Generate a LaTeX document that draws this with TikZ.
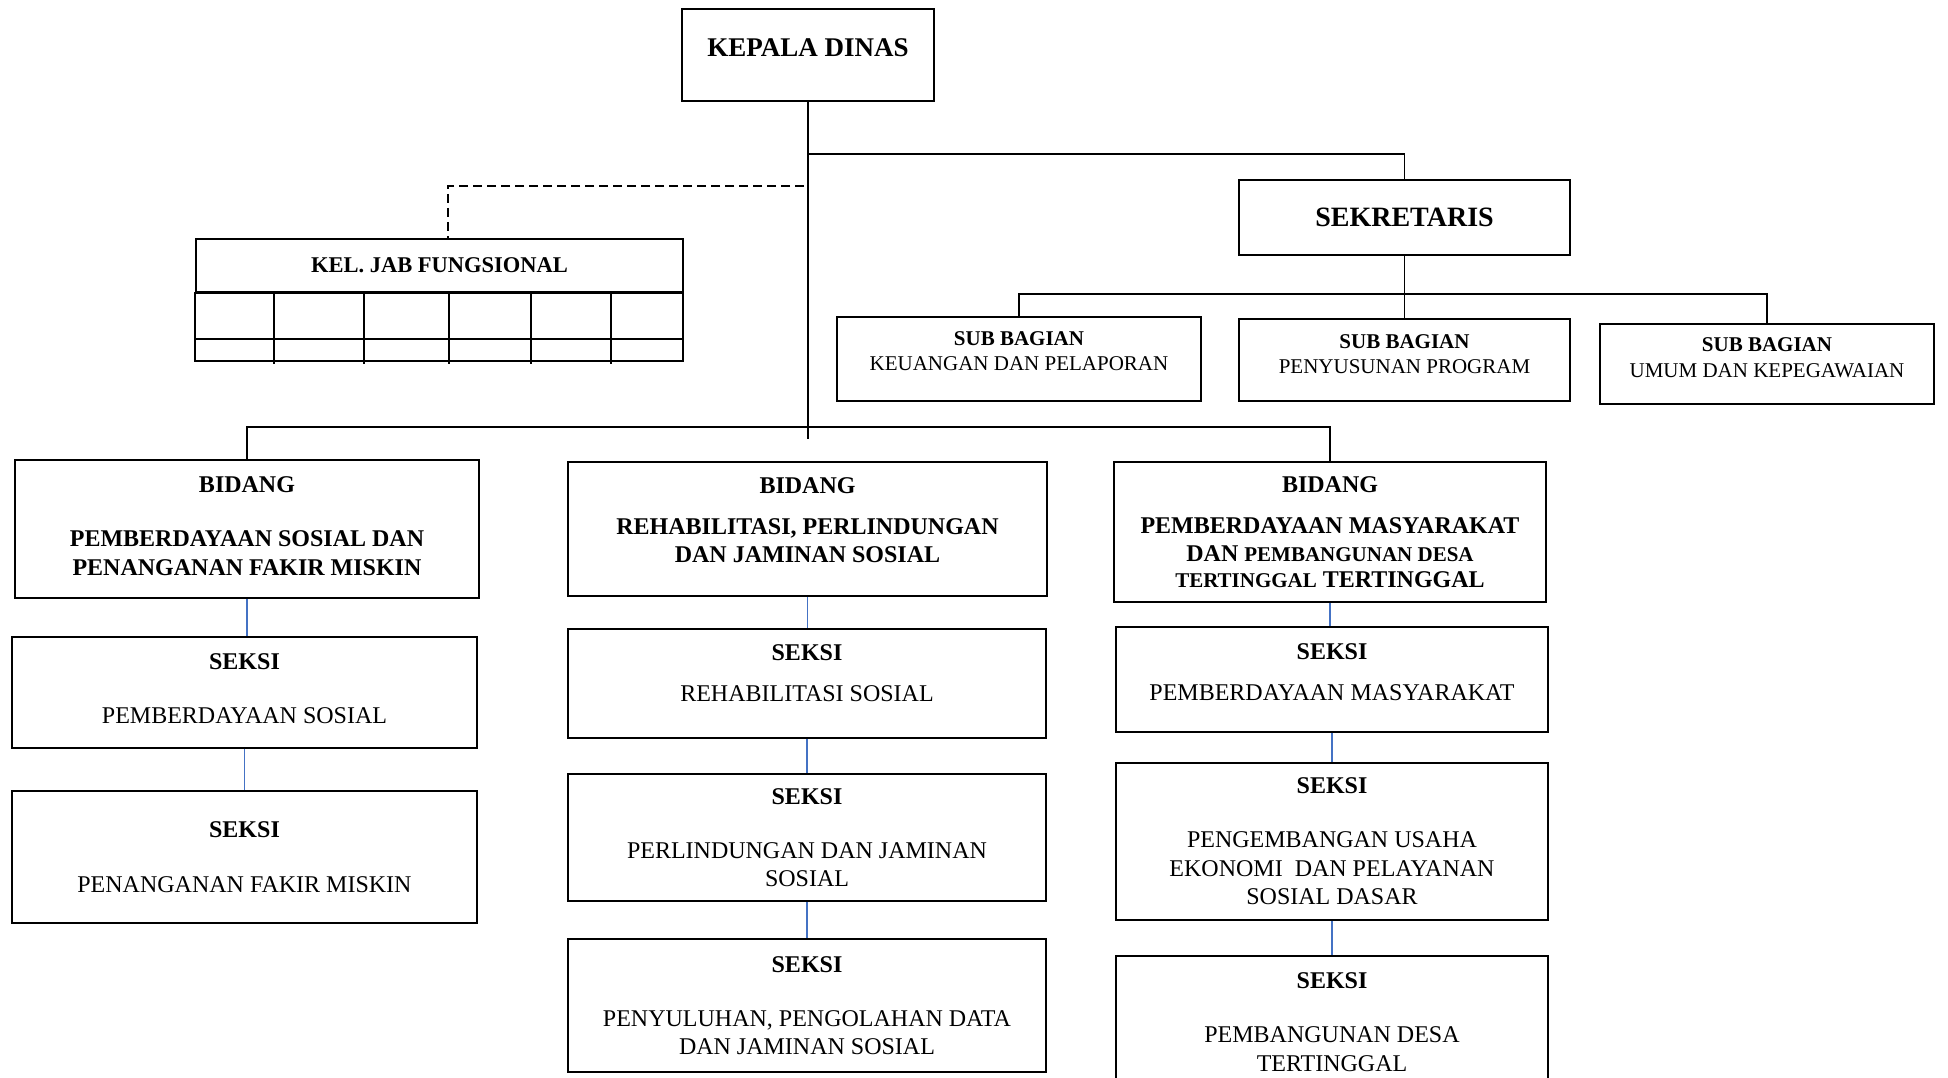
\documentclass[tikz,border=0pt]{standalone}
\usepackage{fontspec}
\setmainfont{Liberation Serif}
\usepackage{tikz}
\usetikzlibrary{positioning, calc}
\definecolor{linkblue}{HTML}{4472C4}

\begin{document}
\begin{tikzpicture}[
  x=1pt, y=-1pt,
  box/.style={draw, line width=1.8pt, align=center, inner sep=0pt},
  orgline/.style={line width=1.6pt},
  seksiline/.style={line width=1.4pt, linkblue},
  dashline/.style={line width=1.5pt, dash pattern=on 9pt off 5pt},
  headfont/.style={font=\fontsize{27}{31}\selectfont\bfseries},
  subfont/.style={font=\fontsize{21}{25.5}\selectfont},
  unitfont/.style={font=\fontsize{24}{28.5}\selectfont},
  bidfont/.style={font=\fontsize{24}{28.5}\selectfont\bfseries},
]
\useasboundingbox (0,0) rectangle (1948,1078);

% --- Kepala dinas and sekretariat ---
\node[box, headfont, minimum width=252pt, minimum height=92pt, text depth=14pt] (kepala) at (808,55) {KEPALA DINAS};
\node[box, font=\fontsize{28}{32}\selectfont\bfseries, minimum width=331pt, minimum height=75pt] (sekretaris) at (1404.5,217.5) {SEKRETARIS};

\node[box, subfont, minimum width=364pt, minimum height=84pt, text depth=16pt] (subkeu) at (1019,359) {\textbf{SUB BAGIAN}\\KEUANGAN DAN PELAPORAN};
\node[box, subfont, minimum width=331pt, minimum height=82pt, text depth=12pt] (subprog) at (1404.5,360) {\textbf{SUB BAGIAN}\\PENYUSUNAN PROGRAM};
\node[box, subfont, minimum width=334pt, minimum height=80pt, text depth=13pt] (subumum) at (1767,364) {\textbf{SUB BAGIAN}\\UMUM DAN KEPEGAWAIAN};

% --- Kelompok jabatan fungsional ---
\node[box, font=\fontsize{22.5}{26}\selectfont\bfseries, minimum width=487pt, minimum height=53pt] (kjf) at (439.5,265.5) {KEL. JAB FUNGSIONAL};
\draw[line width=1.8pt] (kjf.south west) rectangle (683,361);
\draw[line width=1.8pt] (196,339) -- (683,339);
\foreach \cx in {274,364,449,531,611}
  \draw[line width=1.8pt] (\cx,292) -- (\cx,364);

% --- Bidang ---
\node[box, bidfont, minimum width=464pt, minimum height=138pt, text depth=6pt] (bidpfm) at (247,529)
  {BIDANG\\[26pt]PEMBERDAYAAN SOSIAL DAN\\PENANGANAN FAKIR MISKIN};
\node[box, bidfont, minimum width=479pt, minimum height=134pt, text depth=18pt] (bidrpj) at (807.5,529)
  {BIDANG\\[12.5pt]REHABILITASI, PERLINDUNGAN\\DAN JAMINAN SOSIAL};
\node[box, bidfont, minimum width=432pt, minimum height=140pt] (bidpmd) at (1330,532)
  {BIDANG\\[12.5pt]PEMBERDAYAAN MASYARAKAT\\DAN {\fontsize{21}{28.5}\selectfont PEMBANGUNAN DESA}\\[-2.5pt]{\fontsize{21}{28.5}\selectfont TERTINGGAL} TERTINGGAL};

% --- Seksi ---
\node[box, unitfont, minimum width=465pt, minimum height=111pt, text depth=7pt] (seksips) at (244.5,692.5)
  {\textbf{SEKSI}\\[25.5pt]PEMBERDAYAAN SOSIAL};
\node[box, unitfont, minimum width=465pt, minimum height=132pt] (seksipfm) at (244.5,857)
  {\textbf{SEKSI}\\[26pt]PENANGANAN FAKIR MISKIN};

\node[box, unitfont, minimum width=478pt, minimum height=109pt, text depth=20pt] (seksirs) at (807,683.5)
  {\textbf{SEKSI}\\[12.5pt]REHABILITASI SOSIAL};
\node[box, unitfont, minimum width=478pt, minimum height=127pt] (seksipjs) at (807,837.5)
  {\textbf{SEKSI}\\[25.5pt]PERLINDUNGAN DAN JAMINAN\\SOSIAL};
\node[box, unitfont, minimum width=478pt, minimum height=133pt] (seksipds) at (807,1005.5)
  {\textbf{SEKSI}\\[25.5pt]PENYULUHAN, PENGOLAHAN DATA\\DAN JAMINAN SOSIAL};

\node[box, unitfont, minimum width=432pt, minimum height=105pt, text depth=15pt] (seksipm) at (1332,679.5)
  {\textbf{SEKSI}\\[13pt]PEMBERDAYAAN MASYARAKAT};
\node[box, unitfont, minimum width=432pt, minimum height=157pt] (seksipue) at (1332,841.5)
  {\textbf{SEKSI}\\[25.5pt]PENGEMBANGAN USAHA\\EKONOMI~ DAN PELAYANAN\\SOSIAL DASAR};
\node[box, unitfont, minimum width=432pt, minimum height=132pt] (seksipdt) at (1332,1022)
  {\textbf{SEKSI}\\[25.5pt]PEMBANGUNAN DESA\\TERTINGGAL};

% --- Connectors ---
\coordinate (trunkend) at (808,439);
\coordinate (secjoin) at (808,154);
\coordinate (fungjoin) at (804,186);
\coordinate (subjoin) at (1406,294);
\coordinate (bidjoin) at (808,427);

\draw[orgline] (kepala.south) -- (trunkend);
\draw[orgline] (secjoin) -| (sekretaris.north);
\draw[dashline] (fungjoin) -| ([xshift=8.5pt]kjf.north);
\draw[orgline] (sekretaris.south) -- (subprog.north);
\draw[orgline] (subkeu.north) |- (subjoin) -| (subumum.north);
\draw[orgline] (bidpfm.north) |- (bidjoin) -| (bidpmd.north);

\foreach \a/\b in {bidpfm/seksips, seksips/seksipfm,
                   bidrpj/seksirs, seksirs/seksipjs, seksipjs/seksipds,
                   bidpmd/seksipm, seksipm/seksipue, seksipue/seksipdt}
  \draw[seksiline] (\a.south) -- (\a.south |- \b.north);

\end{tikzpicture}
\end{document}
